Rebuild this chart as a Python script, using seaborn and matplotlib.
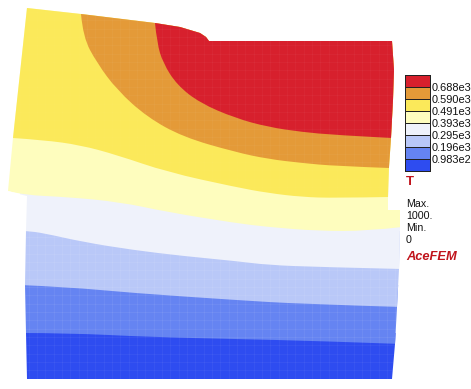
import matplotlib
matplotlib.use('Agg')
import matplotlib.pyplot as plt
import matplotlib.patches as patches
from matplotlib.colors import ListedColormap, to_rgba
from matplotlib.path import Path
import numpy as np
import pandas as pd
import seaborn as sns

# colours of the bands, hottest first
band_colors = ['#d7202d', '#e49a38', '#fbe95a', '#fefdbe', '#eff2fb', '#b9c8f8', '#6584f2', '#2e4cf0']
level_labels = ['0.688e3', '0.590e3', '0.491e3', '0.393e3', '0.295e3', '0.196e3', '0.983e2']
mesh_alpha = [0.08, 0.08, 0.03, 0.0, 0.0, 0.16, 0.14, 0.10]

# deformed outline of the body, pixel units of the picture
outline_x = [27, 81, 155, 180, 200, 206, 209, 392, 394, 393, 391, 389, 388, 388, 400, 400, 399, 397, 395, 392,
             27, 26, 25, 26, 27, 27, 23, 8, 13]
outline_y = [8, 14, 23, 27, 33, 37, 41, 41, 70, 100, 138, 167, 197, 210, 210, 227, 269, 307, 344, 379,
             379, 333, 285, 231, 197, 196, 195, 191, 138]

# contour lines between the bands, hottest first
c1_x = [155, 157, 163, 177, 200, 235, 268, 302, 335, 391]
c1_y = [23, 43, 63, 85, 103, 118, 127, 132, 135, 138]
c2_x = [81, 83, 97, 117, 147, 183, 235, 268, 302, 335, 389]
c2_y = [14, 37, 63, 90, 117, 137, 152, 159, 163, 166, 168]
c3_x = [13, 43, 80, 117, 167, 235, 268, 302, 335, 388]
c3_y = [138, 140, 145, 155, 172, 187, 193, 197, 198, 197]
c4_x = [8, 23, 67, 120, 167, 235, 268, 318, 368, 402]
c4_y = [191, 195, 197, 202, 212, 223, 227, 231, 231, 227]
c5_x = [20, 27, 43, 83, 133, 183, 235, 268, 318, 402]
c5_y = [231, 231, 233, 242, 250, 256, 261, 265, 267, 269]
c6_x = [20, 67, 133, 235, 302, 402]
c6_y = [285, 287, 293, 300, 304, 307]
c7_x = [20, 67, 150, 235, 318, 402]
c7_y = [333, 333, 337, 339, 341, 344]

contours = [(c1_x, c1_y), (c2_x, c2_y), (c3_x, c3_y), (c4_x, c4_y), (c5_x, c5_y), (c6_x, c6_y), (c7_x, c7_y)]


def band_path(xs, ys, top=-50):
    # region above a contour, the contour drawn as a smooth curve through its points
    verts = [(xs[0], ys[0])]
    codes = [Path.MOVETO]
    for i in range(1, len(xs) - 1):
        end = (xs[i + 1], ys[i + 1])
        if i < len(xs) - 2:
            end = ((xs[i] + xs[i + 1]) / 2, (ys[i] + ys[i + 1]) / 2)
        verts += [(xs[i], ys[i]), end]
        codes += [Path.CURVE3, Path.CURVE3]
    verts += [(xs[-1] + 60, ys[-1]), (xs[-1] + 60, top), (xs[0], top), (xs[0], ys[0])]
    codes += [Path.LINETO, Path.LINETO, Path.LINETO, Path.CLOSEPOLY]
    return Path(verts, codes)


sns.set_theme(style='white')
plt.rcParams['font.family'] = ['Liberation Sans', 'DejaVu Sans']
plt.rcParams['hatch.linewidth'] = 0.3

fig = plt.figure(figsize=(4.71, 3.89), dpi=100)
ax = fig.add_axes([0, 0, 1, 1])
ax.set_xlim(0, 471)
ax.set_ylim(389, 0)
ax.axis('off')

# only used as the clip shape, a filled base would bleed along the edges
body = patches.Polygon(np.column_stack([outline_x, outline_y]), closed=True, fc='none', ec='none')
ax.add_patch(body)


def add_band(path, color, alpha):
    band = patches.PathPatch(path, fc=color, ec='none', lw=0)
    ax.add_patch(band)
    band.set_clip_path(body)
    if alpha > 0:
        mesh = patches.PathPatch(path, fc='none', ec=to_rgba('white', alpha), lw=0, hatch='++')
        ax.add_patch(mesh)
        mesh.set_clip_path(body)


# paint from the coldest band up, each one covers everything above its contour
# the blue bands stop at the next contour so they don't bleed along the upper block
add_band(Path([(0, 400), (471, 400), (471, min(c7_y)), (0, min(c7_y)), (0, 400)]), band_colors[-1], mesh_alpha[-1])
for i in range(len(contours) - 1, -1, -1):
    top = min(contours[i - 1][1]) if i >= 4 else -50
    add_band(band_path(*contours[i], top=top), band_colors[i], mesh_alpha[i])

# colour legend
cax = fig.add_axes([405 / 471, 1 - 171 / 389, 25 / 471, 96 / 389])
cells = pd.DataFrame({'T': range(len(band_colors))})
sns.heatmap(cells, ax=cax, cmap=ListedColormap(band_colors), cbar=False, linewidths=0.72,
            linecolor='#222222', xticklabels=False, clip_on=False)
cax.yaxis.tick_right()
cax.set_yticks(range(1, len(band_colors)))
cax.set_yticklabels(level_labels, rotation=0, fontsize=7.9, color='#111111')
cax.tick_params(axis='y', length=0, pad=1.5)
cax.set_ylabel('')

ax.text(406, 182, 'T', color='#c0141c', fontsize=9.5, fontweight='bold', va='center')
ax.text(406, 204, 'Max.', color='#111111', fontsize=7.7, va='center')
ax.text(406, 216, '1000.', color='#111111', fontsize=7.7, va='center')
ax.text(406, 228, 'Min.', color='#111111', fontsize=7.7, va='center')
ax.text(406, 240, '0', color='#111111', fontsize=7.7, va='center')
ax.text(406, 257, 'AceFEM', color='#c0141c', fontsize=9.3, fontweight='bold', fontstyle='italic', va='center')

plt.savefig('out.png', dpi=100)
